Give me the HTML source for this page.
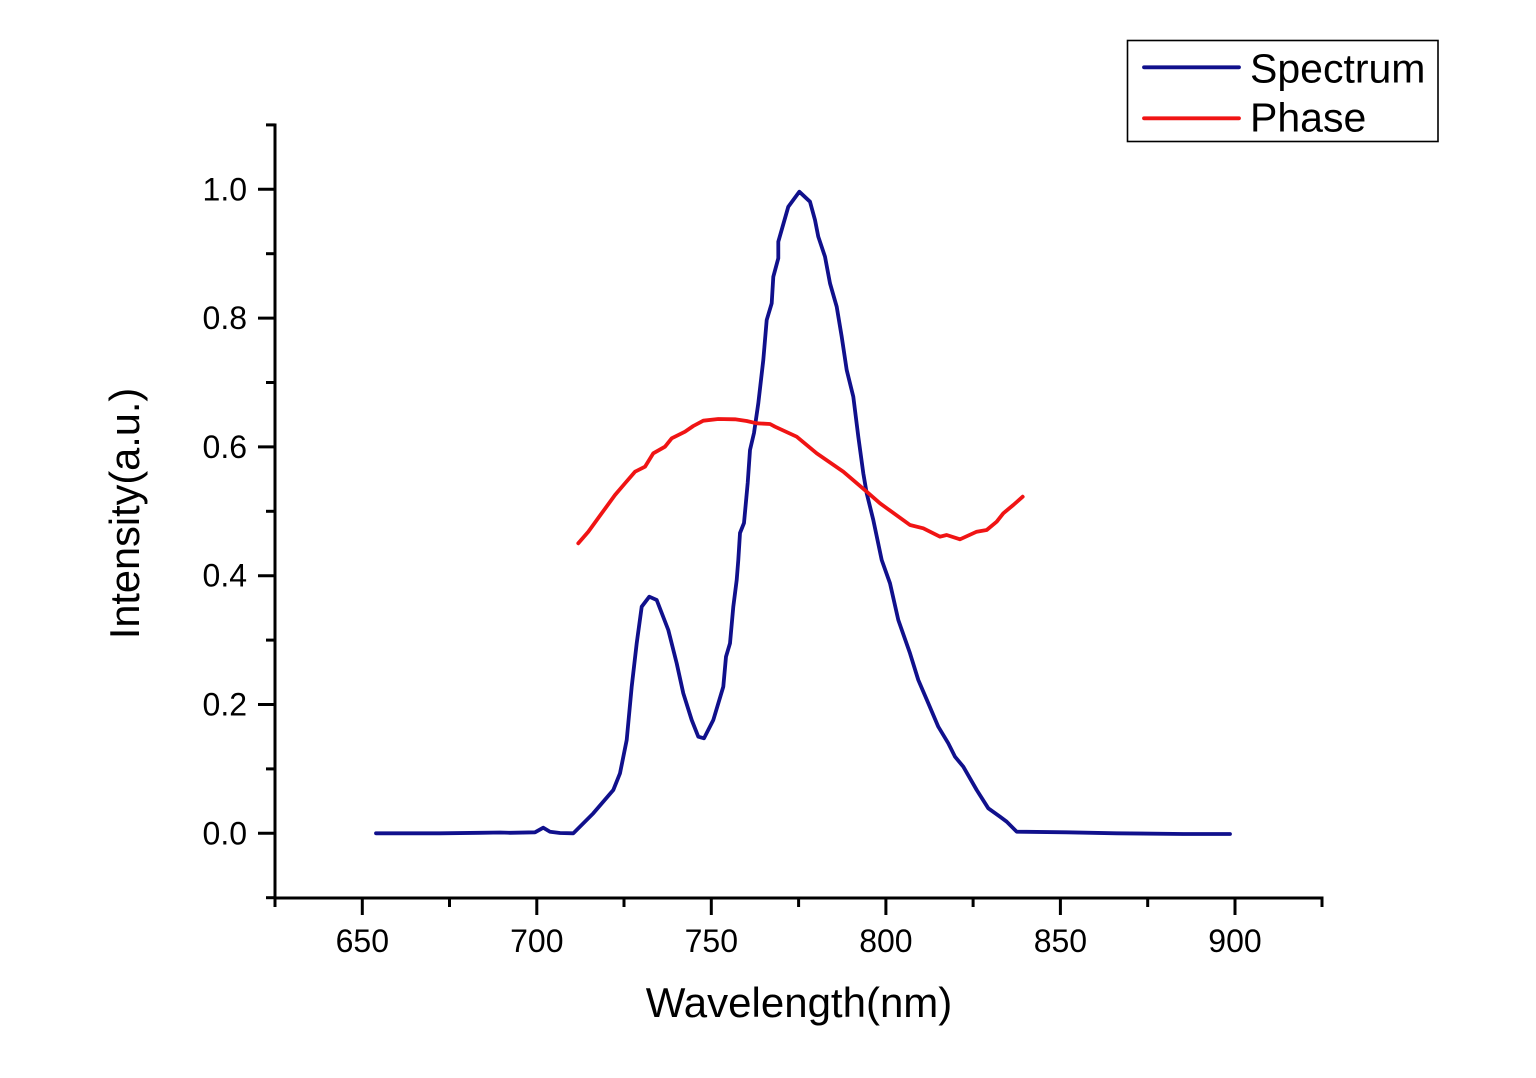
<!DOCTYPE html>
<html>
<head>
<meta charset="utf-8">
<style>
  html, body { margin: 0; padding: 0; background: #ffffff; }
  svg { display: block; }
  text { font-family: "Liberation Sans", Arial, sans-serif; fill: #000; }
</style>
</head>
<body>
<svg width="1536" height="1078" viewBox="0 0 1536 1078" xmlns="http://www.w3.org/2000/svg">
  <rect x="0" y="0" width="1536" height="1078" fill="#ffffff"/>

  <!-- Axes -->
  <g stroke="#000" stroke-width="3" fill="none" stroke-linecap="square">
    <line x1="275" y1="125" x2="275" y2="898"/>
    <line x1="275" y1="898" x2="1322" y2="898"/>
  </g>

  <!-- Y ticks -->
  <g stroke="#000" stroke-width="3">
    <line x1="258" y1="833.3" x2="275" y2="833.3"/>
    <line x1="258" y1="704.5" x2="275" y2="704.5"/>
    <line x1="258" y1="575.7" x2="275" y2="575.7"/>
    <line x1="258" y1="446.9" x2="275" y2="446.9"/>
    <line x1="258" y1="318.1" x2="275" y2="318.1"/>
    <line x1="258" y1="189.3" x2="275" y2="189.3"/>
    <line x1="266" y1="897.7" x2="275" y2="897.7"/>
    <line x1="266" y1="768.9" x2="275" y2="768.9"/>
    <line x1="266" y1="640.1" x2="275" y2="640.1"/>
    <line x1="266" y1="511.3" x2="275" y2="511.3"/>
    <line x1="266" y1="382.5" x2="275" y2="382.5"/>
    <line x1="266" y1="253.7" x2="275" y2="253.7"/>
    <line x1="266" y1="124.9" x2="275" y2="124.9"/>
  </g>

  <!-- X ticks -->
  <g stroke="#000" stroke-width="3">
    <line x1="362.3" y1="898" x2="362.3" y2="915"/>
    <line x1="536.8" y1="898" x2="536.8" y2="915"/>
    <line x1="711.3" y1="898" x2="711.3" y2="915"/>
    <line x1="885.9" y1="898" x2="885.9" y2="915"/>
    <line x1="1060.4" y1="898" x2="1060.4" y2="915"/>
    <line x1="1235" y1="898" x2="1235" y2="915"/>
    <line x1="275" y1="898" x2="275" y2="907"/>
    <line x1="449.5" y1="898" x2="449.5" y2="907"/>
    <line x1="624" y1="898" x2="624" y2="907"/>
    <line x1="798.6" y1="898" x2="798.6" y2="907"/>
    <line x1="973.1" y1="898" x2="973.1" y2="907"/>
    <line x1="1147.7" y1="898" x2="1147.7" y2="907"/>
    <line x1="1322" y1="898" x2="1322" y2="907"/>
  </g>

  <!-- Y tick labels -->
  <g font-size="32" text-anchor="end">
    <text x="247" y="844.3">0.0</text>
    <text x="247" y="715.5">0.2</text>
    <text x="247" y="586.7">0.4</text>
    <text x="247" y="457.9">0.6</text>
    <text x="247" y="329.1">0.8</text>
    <text x="247" y="200.3">1.0</text>
  </g>

  <!-- X tick labels -->
  <g font-size="32" text-anchor="middle">
    <text x="362.3" y="952">650</text>
    <text x="536.8" y="952">700</text>
    <text x="711.3" y="952">750</text>
    <text x="885.9" y="952">800</text>
    <text x="1060.4" y="952">850</text>
    <text x="1235" y="952">900</text>
  </g>

  <!-- Axis titles -->
  <text x="799" y="1017" font-size="42" text-anchor="middle">Wavelength(nm)</text>
  <text transform="translate(139,513.5) rotate(-90)" font-size="41.5" text-anchor="middle">Intensity(a.u.)</text>

  <!-- Spectrum -->
  <polyline fill="none" stroke="#10108c" stroke-width="3.8" stroke-linejoin="round" stroke-linecap="round"
    points="376,833.3 440,833.3 480,832.8 500,832.5 510,832.8 535,832.3 543.3,827.7 550,831.7 560,833 573.3,833.3
    593.3,813.3 613.3,790 620,773.3 626.7,740 631.7,686.7 636.7,643.3 641.7,606.7 649.3,596.7 656.7,600 668.3,630
    676.7,663.3 683.3,693.3 691.7,720 698.3,736.7 704,738.3 713.3,720 723.3,686.7 726,656.7 730,643.3 733.3,606.7
    736.7,580 738.3,560 740,533 744,523 747.7,483 750,450 754,433 758.3,403.3 763.3,360 766.7,320 771.7,303.3
    773.3,276.7 778.3,258.3 778.3,241.7 788.3,206.7 799.3,191.7 810,201.7 815,220 818.3,236.7 825,256.7 830,283.3
    836.7,306.7 841.7,336.7 846.7,370 853.3,396.7 858.3,436.7 863.3,473.3 866.7,493.3 873.3,520 881.7,560 890,583.3
    898.3,620 910,653.3 918.3,680 928.3,703.3 938.3,726.7 948.3,743.3 955,756.7 963.3,766.7 976.7,790 988.3,808.3
    1000,816.7 1006.7,821.7 1016.7,831.7 1066.7,832.3 1116.7,833.3 1183.3,834 1230,834"/>

  <!-- Phase -->
  <polyline fill="none" stroke="#f01414" stroke-width="3.8" stroke-linejoin="round" stroke-linecap="round"
    points="578.3,543.3 588.3,531.7 601.7,513.3 615,495 625,483.3 635,471.7 645,466.7 653.3,453.3 665,446.7 671.7,438.3
    685,431.7 693.3,426 703.3,420.7 718.3,419 735,419.3 746.7,421 756.7,423.3 770,424 775,426.7 796.7,436.7
    816.7,453.3 843.3,471.7 866.7,491.7 880,503.3 910,525 923.3,528.3 940,536.7 946.7,535 960,539.3 976.7,531.7
    986.7,530 996.7,521.7 1003.3,513.3 1013.3,505 1022.7,496.7"/>

  <!-- Legend -->
  <rect x="1127.5" y="40.5" width="310.5" height="101" fill="#fff" stroke="#000" stroke-width="1.6"/>
  <line x1="1144" y1="67.3" x2="1239" y2="67.3" stroke="#10108c" stroke-width="3.8" stroke-linecap="round"/>
  <line x1="1144" y1="118.3" x2="1239" y2="118.3" stroke="#f01414" stroke-width="3.8" stroke-linecap="round"/>
  <text x="1250" y="82.7" font-size="41">Spectrum</text>
  <text x="1250" y="131.7" font-size="41">Phase</text>
</svg>
</body>
</html>
